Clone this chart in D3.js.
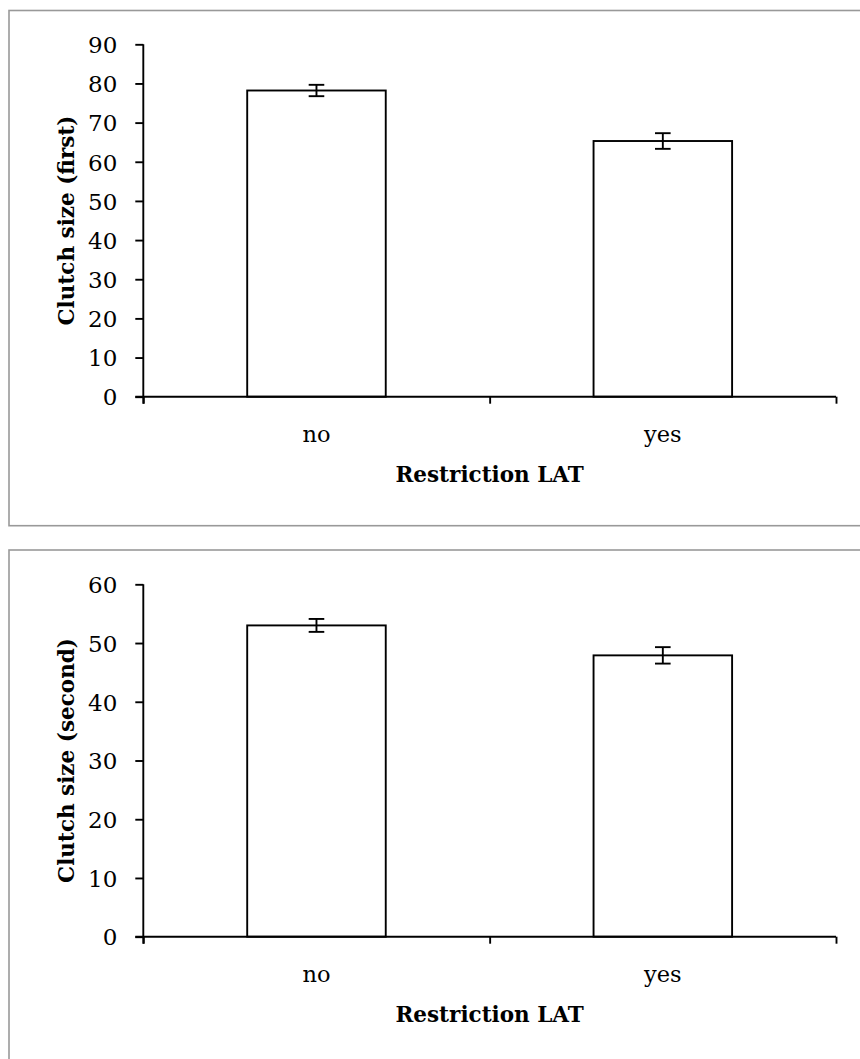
<!DOCTYPE html>
<html>
<head>
<meta charset="utf-8">
<script src="https://cdn.jsdelivr.net/npm/d3@7"></script>
<style>
  html, body { margin: 0; padding: 0; background: #fff; }
  svg { display: block; }
  text { font-family: "DejaVu Serif", serif; fill: #000; }
</style>
</head>
<body>
<svg id="chart" width="860" height="1059"></svg>
<script>
// ---- data ----
const categories = ["no", "yes"];
const firstValues = [78.2, 65.3];
const firstErrors = [1.45, 2.0];
const secondValues = [53.0, 47.9];
const secondErrors = [1.1, 1.4];
const firstTicks = [0, 10, 20, 30, 40, 50, 60, 70, 80, 90];
const secondTicks = [0, 10, 20, 30, 40, 50, 60];
const xTitle = "Restriction LAT";
const firstYTitle = "Clutch size (first)";
const secondYTitle = "Clutch size (second)";

const svg = d3.select("#chart");

// panel frames
svg.append("rect").attr("x", 9).attr("y", 10.5).attr("width", 900).attr("height", 515.2)
  .attr("fill", "none").attr("stroke", "#999").attr("stroke-width", 1.6);
svg.append("rect").attr("x", 9).attr("y", 550).attr("width", 900).attr("height", 600)
  .attr("fill", "none").attr("stroke", "#999").attr("stroke-width", 1.6);

const SW = 1.9;

function panel(cfg) {
  const g = svg.append("g");
  const x = d3.scaleBand().domain(categories).range([143.3, 836])
    .paddingInner(0.6).paddingOuter(0.3);
  const xb = d3.scaleLinear().domain([0, categories.length]).range([143.3, 836]);
  const y = d3.scaleLinear().domain([0, d3.max(cfg.ticks)]).range([cfg.y0, cfg.y1]);

  // bars
  g.selectAll("rect.bar").data(categories).join("rect")
    .attr("class", "bar")
    .attr("x", d => x(d))
    .attr("width", x.bandwidth())
    .attr("y", (d, i) => y(cfg.values[i]))
    .attr("height", (d, i) => y(0) - y(cfg.values[i]))
    .attr("fill", "#fff").attr("stroke", "#000").attr("stroke-width", SW);

  // error bars
  const eb = g.selectAll("g.err").data(categories).join("g").attr("class", "err")
    .attr("transform", d => `translate(${x(d) + x.bandwidth() / 2},0)`);
  eb.append("line").attr("x1", 0).attr("x2", 0)
    .attr("y1", (d, i) => y(cfg.values[i] + cfg.errors[i]))
    .attr("y2", (d, i) => y(cfg.values[i] - cfg.errors[i]))
    .attr("stroke", "#000").attr("stroke-width", SW);
  eb.append("line").attr("x1", -7.8).attr("x2", 7.8)
    .attr("y1", (d, i) => y(cfg.values[i] + cfg.errors[i]))
    .attr("y2", (d, i) => y(cfg.values[i] + cfg.errors[i]))
    .attr("stroke", "#000").attr("stroke-width", SW);
  eb.append("line").attr("x1", -7.8).attr("x2", 7.8)
    .attr("y1", (d, i) => y(cfg.values[i] - cfg.errors[i]))
    .attr("y2", (d, i) => y(cfg.values[i] - cfg.errors[i]))
    .attr("stroke", "#000").attr("stroke-width", SW);

  // y axis
  const ya = g.append("g").attr("transform", "translate(143.3,0)")
    .call(d3.axisLeft(y).tickValues(cfg.ticks).tickSize(8).tickSizeOuter(0).tickPadding(18));
  ya.select(".domain").attr("stroke", "#000").attr("stroke-width", SW)
    .attr("d", `M0,${cfg.y1}V${cfg.y0 + 7}`);
  ya.selectAll(".tick line").attr("stroke", "#000").attr("stroke-width", SW);
  ya.selectAll(".tick text").attr("font-size", 23).attr("font-family", "DejaVu Serif").attr("dy", "0.36em");

  // x axis boundary ticks
  const xa = g.append("g").attr("transform", `translate(0,${cfg.y0})`)
    .call(d3.axisBottom(xb).tickValues(d3.range(categories.length + 1)).tickSize(7).tickSizeOuter(0).tickFormat(""));
  xa.select(".domain").attr("stroke", "#000").attr("stroke-width", SW)
    .attr("d", `M135.3,0H836`);
  xa.selectAll(".tick line").attr("stroke", "#000").attr("stroke-width", SW);

  // x category labels
  const xl = g.append("g").attr("transform", `translate(0,${cfg.y0})`)
    .call(d3.axisBottom(x).tickSize(0).tickPadding(0));
  xl.select(".domain").remove();
  xl.selectAll(".tick text").attr("font-size", 22.5).attr("font-family", "DejaVu Serif")
    .attr("dy", null).attr("y", 45);

  // x title
  g.append("text").attr("x", (143.3 + 836) / 2).attr("y", cfg.y0 + 85)
    .attr("text-anchor", "middle").attr("font-weight", "bold").attr("font-size", 21.5)
    .text(xTitle);

  // y title
  g.append("text")
    .attr("transform", `translate(74,${(cfg.y0 + cfg.y1) / 2}) rotate(-90)`)
    .attr("text-anchor", "middle").attr("font-weight", "bold").attr("font-size", 21.5)
    .text(cfg.yTitle);
}

panel({ values: firstValues, errors: firstErrors, ticks: firstTicks, y0: 396.7, y1: 44.3, yTitle: firstYTitle });
panel({ values: secondValues, errors: secondErrors, ticks: secondTicks, y0: 936.7, y1: 584.3, yTitle: secondYTitle });
</script>
</body>
</html>
